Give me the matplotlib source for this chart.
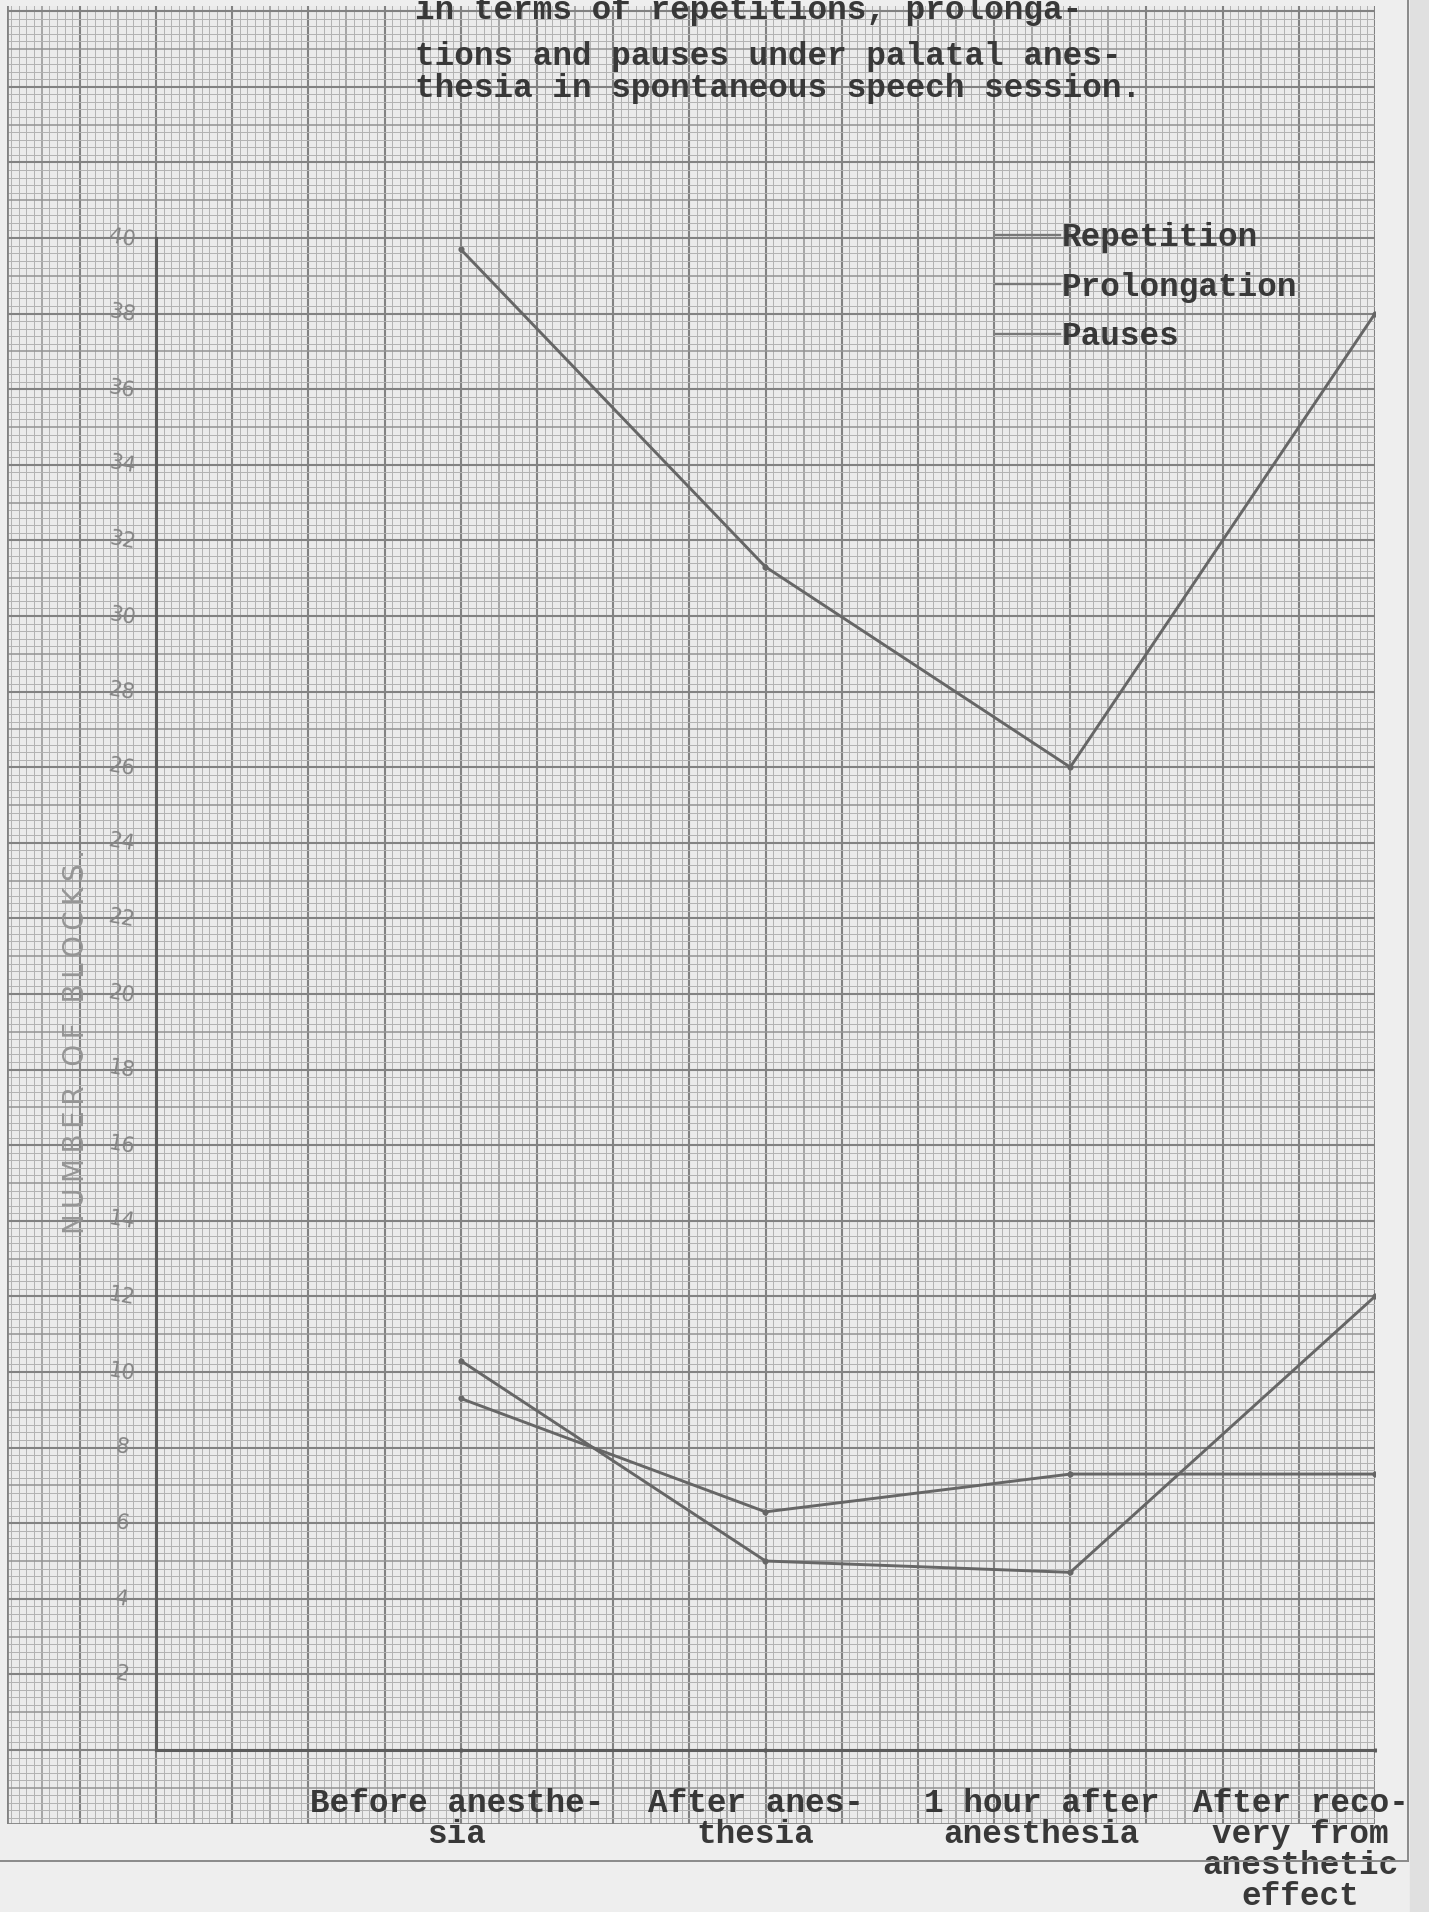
import numpy as np
import matplotlib
matplotlib.use("Agg")
import matplotlib.pyplot as plt
from matplotlib.lines import Line2D

# ---------------- data ----------------
categories = ["Before anesthe-\nsia", "After anes-\nthesia", "1 hour after\nanesthesia",
              "After reco-\nvery from\nanesthetic\neffect"]
cat_x = [1, 2, 3, 4]
repetition = [39.7, 31.3, 26.0, 38.0]
prolongation = [10.3, 5.0, 4.7, 12.0]
pauses = [9.3, 6.3, 7.3, 7.3]
series_names = ["Repetition", "Prolongation", "Pauses"]
ytick_vals = list(range(2, 41, 2))
ytick_labels = [str(v) for v in ytick_vals]
title_lines = ["in terms of repetitions, prolonga-",
               "tions and pauses under palatal anes-",
               "thesia in spontaneous speech session."]
ylabel = "NUMBER OF BLOCKS."

# ---------------- figure ----------------
W, H = 1429, 1912
fig = plt.figure(figsize=(W / 100, H / 100), dpi=100, facecolor="#eeeeee")

# graph-paper axes
gl, gr, gt, gb = 7, 1375, 6, 1824
ax = fig.add_axes([gl / W, 1 - gb / H, (gr - gl) / W, (gb - gt) / H])
ax.set_facecolor("#ebebeb")
x0px, xstep = 156, 304.75
y0px, ystep = 1750, 37.8
ax.set_xlim((gl - x0px) / xstep, (gr - x0px) / xstep)
ax.set_ylim((y0px - gb) / ystep, (y0px - gt) / ystep)
xmin, xmax = ax.get_xlim()
ymin, ymax = ax.get_ylim()

# grid of graph paper
fine_c, med_c, heavy_c = "#b2b2b2", "#939393", "#828282"
xs = np.arange(np.ceil(xmin / 0.025) * 0.025, xmax + 1e-9, 0.025)
for v in xs:
    k = int(round(v / 0.025))
    if k % 10 == 0:
        c, lw = heavy_c, 1.5
    elif k % 5 == 0:
        c, lw = med_c, 1.1
    else:
        c, lw = fine_c, 0.7
    ax.axvline(v, color=c, lw=lw, zorder=0)
ys = np.arange(np.ceil(ymin / 0.2) * 0.2, ymax + 1e-9, 0.2)
for v in ys:
    k = int(round(v / 0.2))
    if k % 10 == 0:
        c, lw = heavy_c, 1.5
    elif k % 5 == 0:
        c, lw = med_c, 1.1
    else:
        c, lw = fine_c, 0.7
    ax.axhline(v, color=c, lw=lw, zorder=0)
ax.axvline(xmin, color=heavy_c, lw=2, zorder=0)
ax.axhline(ymin, color=heavy_c, lw=2, zorder=0)

# axes lines
for s in ["top", "right"]:
    ax.spines[s].set_visible(False)
ax.spines["left"].set_position(("data", 0))
ax.spines["left"].set_bounds(0, 40)
ax.spines["bottom"].set_position(("data", 0))
ax.spines["bottom"].set_bounds(0, 4)
for s in ["left", "bottom"]:
    ax.spines[s].set_color("#5c5c5c")
    ax.spines[s].set_linewidth(2.2)
    ax.spines[s].set_zorder(3)
ax.set_xticks(cat_x)
ax.set_xticklabels([])
ax.set_yticks([])
ax.tick_params(axis="x", length=3, width=2, color="#5c5c5c", direction="inout")

# data lines
lc = "#666666"
for vals in (repetition, prolongation, pauses):
    ax.plot(cat_x, vals, color=lc, lw=2.1, marker="o", ms=3.4, zorder=4,
            solid_capstyle="round")

# typewriter font
tw = dict(family="Liberation Mono", weight="bold", size=23.5, color="#383838")

# legend
handles = [Line2D([], [], color="#777777", lw=1.7) for _ in series_names]
leg = ax.legend(handles, series_names, loc="upper left",
                bbox_to_anchor=(996 / W, 1 - 222 / H), bbox_transform=fig.transFigure,
                frameon=False, prop=dict(family="Liberation Mono", weight="bold", size=23.5),
                handlelength=1.96, handletextpad=0.05, labelspacing=0.57,
                borderpad=0, borderaxespad=0)
for t in leg.get_texts():
    t.set_color("#383838")

# y tick labels (hand-written style)
for v, lab in zip(ytick_vals, ytick_labels):
    ax.text((122 - x0px) / xstep, v, lab, ha="center", va="center",
            fontsize=15, color="#858585", family="DejaVu Sans", rotation=-10, zorder=5)

ax.text((76 - x0px) / xstep, (y0px - 1042) / ystep, "\u2009".join(ylabel), rotation=90,
        ha="center", va="center", fontsize=20, color="#959595",
        family="DejaVu Sans", zorder=5)

# x category labels
label_x = [0.987, 1.967, 2.905, 3.756]
for lx, lab in zip(label_x, categories):
    ax.text(lx, (y0px - 1788) / ystep, lab, ha="center", va="top",
            multialignment="center", linespacing=1.0, zorder=5, **tw)

# title (first line cut by top of page, as in the scan)
for yy, line in zip([11, 57, 89], title_lines):
    fig.text(415 / W, 1 - yy / H, line, ha="left", va="center", **tw)

# page border lines and scan edge
fig.add_artist(plt.Rectangle((1410 / W, 0), 19 / W, 1, transform=fig.transFigure,
                             color="#e0e0e0", zorder=-1))
fig.add_artist(Line2D([1408 / W, 1408 / W], [1 - 1861 / H, 1], transform=fig.transFigure,
                      color="#8a8a8a", lw=1.4))
fig.add_artist(Line2D([0, 1408 / W], [1 - 1861 / H, 1 - 1861 / H], transform=fig.transFigure,
                      color="#8a8a8a", lw=1.4))

fig.savefig("out.png", dpi=100, facecolor=fig.get_facecolor())
